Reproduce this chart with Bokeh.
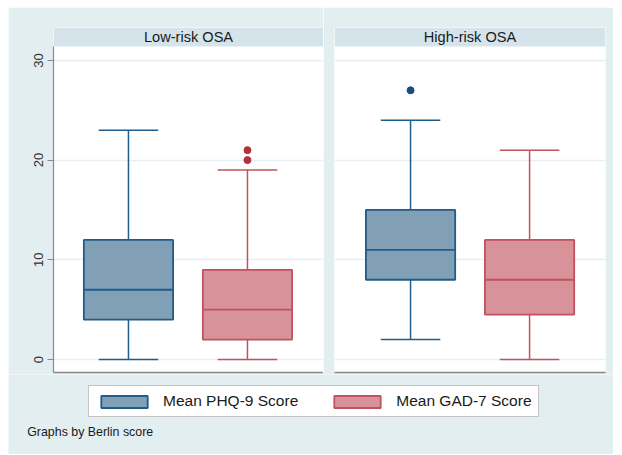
from bokeh.plotting import figure
from bokeh.layouts import column, row
from bokeh.models import (ColumnDataSource, Range1d, BoxAnnotation, Label, Legend,
                          LegendItem, FixedTicker)
from bokeh.transform import dodge
from bokeh.embed import file_html
from bokeh.resources import INLINE

# ---- data ----
groups = ["Low-risk OSA", "High-risk OSA"]
series = ["Mean PHQ-9 Score", "Mean GAD-7 Score"]
# values per group, ordered as [PHQ-9, GAD-7]
low_min = [0, 0]
low_q1 = [4, 2]
low_med = [7, 5]
low_q3 = [12, 9]
low_max = [23, 19]
low_out = [[], [20, 21]]
high_min = [2, 0]
high_q1 = [8, 4.5]
high_med = [11, 8]
high_q3 = [15, 12]
high_max = [24, 21]
high_out = [[27], []]
y_ticks = [0, 10, 20, 30]

# ---- style ----
FONT = "Liberation Sans"
BG = "#e3eef0"
STRIP = "#d5e4ea"
GRID = "#e6eff1"
AXIS = "#8a8a8a"
fills = ["#819fb5", "#d8939a"]
edges = ["#1f5d8c", "#c2525d"]
out_colors = ["#1b4c80", "#b3303c"]


def make_panel(title, mins, q1s, meds, q3s, maxs, outs, first):
    x_pos = [1, 2]
    if first:
        xr = Range1d(0.370, 2.639)
        w, bl, br = 315, 45, 0
    else:
        xr = Range1d(0.361, 2.638)
        w, bl, br = 290, 11, 8
    p = figure(width=w, height=367, x_range=xr, y_range=Range1d(-1.3, 33.3),
               output_backend="svg", toolbar_location=None,
               min_border_top=20, min_border_bottom=2,
               min_border_left=bl, min_border_right=br,
               y_axis_location="left" if first else None)
    p.background_fill_color = "white"
    p.border_fill_color = BG
    p.outline_line_color = None

    src = ColumnDataSource(dict(x=x_pos, lo=mins, q1=q1s, med=meds, q3=q3s,
                                hi=maxs, fill=fills, edge=edges))
    p.segment(x0="x", y0="q3", x1="x", y1="hi", source=src,
              line_color="edge", line_width=1.5)
    p.segment(x0="x", y0="lo", x1="x", y1="q1", source=src,
              line_color="edge", line_width=1.5)
    p.vbar(x="x", bottom="q1", top="q3", width=0.75, source=src,
           fill_color="fill", line_color="edge", line_width=1.8)
    p.segment(x0=dodge("x", -0.375, range=xr), y0="med",
              x1=dodge("x", 0.375, range=xr), y1="med", source=src,
              line_color="edge", line_width=1.8)
    p.segment(x0=dodge("x", -0.25, range=xr), y0="hi",
              x1=dodge("x", 0.25, range=xr), y1="hi", source=src,
              line_color="edge", line_width=1.5)
    p.segment(x0=dodge("x", -0.25, range=xr), y0="lo",
              x1=dodge("x", 0.25, range=xr), y1="lo", source=src,
              line_color="edge", line_width=1.5)

    ox, oy, oc = [], [], []
    for i, vals in enumerate(outs):
        for v in vals:
            ox.append(x_pos[i])
            oy.append(v)
            oc.append(out_colors[i])
    if ox:
        p.scatter(x=ox, y=oy, size=7, fill_color=oc, line_color=oc)

    # strip header
    p.add_layout(BoxAnnotation(bottom=31.4, fill_color=STRIP, fill_alpha=1,
                               line_color=None))
    p.add_layout(Label(x=(xr.start + xr.end) / 2, y=32.35, text=title,
                       text_align="center", text_baseline="middle",
                       text_font=FONT, text_font_size="14.6px",
                       text_color="#1a1a1a"))

    p.xgrid.visible = False
    p.ygrid.ticker = FixedTicker(ticks=y_ticks)
    p.ygrid.grid_line_color = GRID
    p.ygrid.grid_line_width = 1.5

    p.xaxis.ticker = FixedTicker(ticks=[])
    p.xaxis.axis_line_color = AXIS
    p.xaxis.axis_line_width = 1.5
    p.xaxis.major_tick_out = 0
    p.xaxis.minor_tick_out = 0
    p.xaxis.major_label_standoff = 0

    if first:
        ya = p.yaxis[0]
        ya.ticker = FixedTicker(ticks=y_ticks)
        ya.bounds = (-1.3, 31.4)
        ya.axis_line_color = AXIS
        ya.axis_line_width = 1.2
        ya.major_tick_line_color = AXIS
        ya.major_tick_line_width = 1.2
        ya.major_tick_out = 6
        ya.major_tick_in = 0
        ya.minor_tick_line_color = None
        ya.major_label_orientation = "vertical"
        ya.major_label_text_font = FONT
        ya.major_label_text_font_size = "13px"
        ya.major_label_text_color = "#333333"
        ya.major_label_standoff = 4
    return p


p1 = make_panel(groups[0], low_min, low_q1, low_med, low_q3, low_max, low_out, True)
p2 = make_panel(groups[1], high_min, high_q1, high_med, high_q3, high_max, high_out, False)

# ---- bottom area: legend + note ----
H3 = 80
p3 = figure(width=605, height=H3, x_range=Range1d(0, 605), y_range=Range1d(0, H3),
            min_border=0, output_backend="svg", toolbar_location=None,
            x_axis_location=None, y_axis_location=None)
p3.background_fill_color = BG
p3.border_fill_color = BG
p3.outline_line_color = None
p3.grid.visible = False

items = []
for i, name in enumerate(series):
    r = p3.vbar(x=[1], bottom=[low_q1[i]], top=[low_q3[i]], width=0.75,
                fill_color=fills[i], line_color=edges[i], line_width=1.8,
                visible=False)
    items.append(LegendItem(label=name, renderers=[r]))

legend = Legend(items=items, orientation="horizontal", location=(80, H3 - 43),
                glyph_width=58, glyph_height=15, label_standoff=10, spacing=30,
                padding=6, margin=0, label_height=15,
                border_line_color="#8c8c8c", border_line_width=1.2,
                background_fill_color="white", background_fill_alpha=1,
                label_text_font=FONT, label_text_font_size="15.5px",
                label_text_color="#1a1a1a")
p3.add_layout(legend)

p3.add_layout(Label(x=18.7, y=H3 - 57, text="Graphs by Berlin score",
                    text_baseline="middle", text_font=FONT,
                    text_font_size="12.4px", text_color="#1a1a1a"))

layout = column(row(p1, p2), p3)
layout.margin = (7, 0, 0, 8)

open("out.html", "w").write(file_html(layout, INLINE))
